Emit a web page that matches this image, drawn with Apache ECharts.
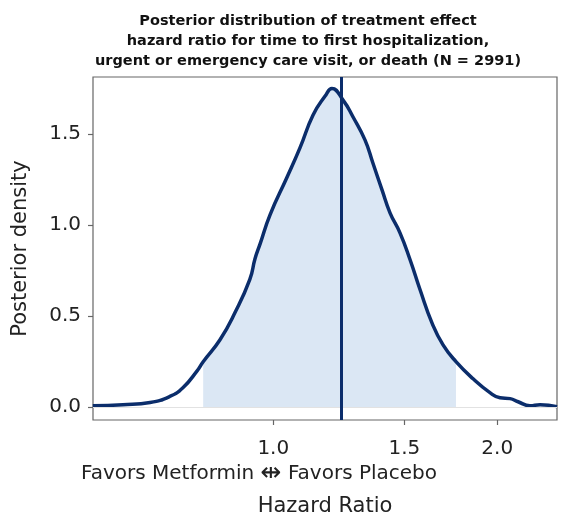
<!DOCTYPE html>
<html>
<head>
<meta charset="utf-8">
<script src="https://cdn.jsdelivr.net/npm/echarts@6/dist/echarts.min.js"></script>
<style>
	html, body { margin: 0; padding: 0; background: #fff; }
	#chart { width: 563px; height: 517px; }
</style>
</head>
<body>
<div id="chart"></div>
<script>
// posterior density (hazard ratio on a log x axis)
var hazardRatio = [0.572, 0.628, 0.683, 0.726, 0.756, 0.790, 0.805, 0.848, 0.888, 0.930,
	0.945, 0.960, 0.990, 1.043, 1.086, 1.131, 1.174, 1.199, 1.241, 1.280,
	1.328, 1.361, 1.400, 1.435, 1.480, 1.527, 1.575, 1.634, 1.691, 1.760,
	1.856, 1.955, 2.017, 2.081, 2.133, 2.213, 2.283, 2.406]
var density = [0.007, 0.013, 0.025, 0.058, 0.106, 0.199, 0.249, 0.370, 0.518, 0.702,
	0.815, 0.897, 1.057, 1.262, 1.425, 1.606, 1.710, 1.752, 1.688, 1.595,
	1.469, 1.342, 1.194, 1.068, 0.958, 0.810, 0.645, 0.463, 0.342, 0.250,
	0.155, 0.079, 0.051, 0.046, 0.029, 0.007, 0.013, 0.002]
var credibleInterval = [0.805, 1.760]
var medianHR = 1.238
var xTicks = [1.0, 1.5, 2.0]
var yTicks = [0, 0.5, 1.0, 1.5]

var navy = '#0b2d6b'
var font = 'DejaVu Sans'

var curve = hazardRatio.map(function (hr, i) { return [Math.log(hr), density[i]] })
var shaded = curve.filter(function (p) {
	return p[0] >= Math.log(credibleInterval[0]) - 1e-9 && p[0] <= Math.log(credibleInterval[1]) + 1e-9
})

var chart = echarts.init(document.getElementById('chart'))

chart.setOption({
	animation: false,
	title: {
		text: 'Posterior distribution of treatment effect\nhazard ratio for time to first hospitalization,\nurgent or emergency care visit, or death (N = 2991)',
		left: 303,
		top: 6,
		textAlign: 'center',
		textStyle: {
			fontFamily: font,
			fontSize: 14.5,
			fontWeight: 'bold',
			lineHeight: 20,
			color: '#111'
		}
	},
	grid: {
		left: 93,
		right: 6,
		top: 77,
		bottom: 97,
		outerBoundsMode: 'none',
		show: true,
		borderColor: '#666',
		borderWidth: 1.2
	},
	xAxis: {
		type: 'value',
		min: Math.log(0.5724),
		max: Math.log(2.406),
		name: 'Hazard Ratio',
		nameLocation: 'middle',
		nameGap: 76,
		nameTextStyle: { fontFamily: font, fontSize: 21, color: '#222' },
		axisLine: { show: false, onZero: false },
		splitLine: { show: false },
		axisTick: {
			show: true,
			length: 5,
			lineStyle: { color: '#666', width: 1.2 },
			customValues: xTicks.map(Math.log)
		},
		axisLabel: {
			customValues: xTicks.map(Math.log),
			formatter: function (v) { return Math.exp(v).toFixed(1) },
			fontFamily: font,
			fontSize: 20,
			color: '#222',
			margin: 19
		}
	},
	yAxis: {
		type: 'value',
		min: -0.0714,
		max: 1.815,
		name: 'Posterior density',
		nameLocation: 'middle',
		nameGap: 62,
		nameTextStyle: { fontFamily: font, fontSize: 21, color: '#222' },
		axisLine: { show: false, onZero: false },
		splitLine: { show: false },
		axisTick: {
			show: true,
			length: 5,
			lineStyle: { color: '#666', width: 1.2 },
			customValues: yTicks
		},
		axisLabel: {
			customValues: yTicks,
			formatter: function (v) { return v.toFixed(1) },
			fontFamily: font,
			fontSize: 20,
			color: '#222',
			margin: 12
		}
	},
	graphic: [{
		type: 'text',
		left: 81,
		top: 461,
		style: {
			text: 'Favors Metformin {a|\u21F9} Favors Placebo',
			font: '20px "DejaVu Sans"',
			fill: '#222',
			rich: {
				a: { fontSize: 25, fontFamily: font, fill: '#222', verticalAlign: 'middle' }
			}
		}
	}],
	series: [
		{
			type: 'line',
			data: shaded,
			smooth: 0.5,
			symbol: 'none',
			silent: true,
			lineStyle: { width: 0 },
			areaStyle: { color: '#dbe7f4', opacity: 1 },
			z: 1,
			markLine: {
				silent: true,
				symbol: 'none',
				label: { show: false },
				lineStyle: { color: '#e2e2e2', width: 1, type: 'solid' },
				data: [{ yAxis: 0 }]
			}
		},
		{
			type: 'line',
			data: curve,
			smooth: 0.5,
			symbol: 'none',
			silent: true,
			lineStyle: { color: navy, width: 3.5 },
			z: 3,
			markLine: {
				silent: true,
				symbol: 'none',
				label: { show: false },
				lineStyle: { color: navy, width: 3, type: 'solid' },
				data: [{ xAxis: Math.log(medianHR) }]
			}
		}
	]
})
</script>
</body>
</html>
